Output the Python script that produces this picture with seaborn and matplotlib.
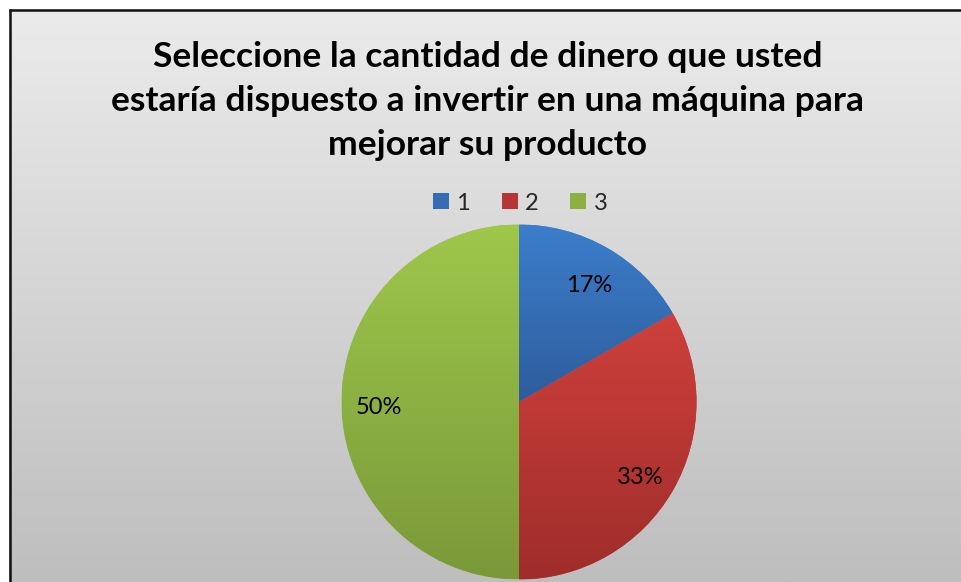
import numpy as np
import matplotlib
matplotlib.use("Agg")
import matplotlib.pyplot as plt
from matplotlib.colors import LinearSegmentedColormap
from matplotlib.patches import Patch
import seaborn as sns

# Survey answers
categories = ["1", "2", "3"]
counts = [1, 2, 3]
title = ("Seleccione la cantidad de dinero que usted\n"
         "estaría dispuesto a invertir en una máquina para\n"
         "mejorar su producto")

# top / bottom shade of each slice
top_colors = ["#3c7ecc", "#ce403b", "#9ec74b"]
bottom_colors = ["#2e5d9c", "#9f2d2b", "#7a9939"]

sns.set_theme(style="white")
plt.rcParams["font.family"] = ["Lato", "DejaVu Sans"]

W, H = 961, 582
fig = plt.figure(figsize=(W / 100, H / 100), dpi=100)
fig.patch.set_facecolor("white")

# chart area with vertical grey gradient and dark frame
bx0, by_top = 9, 9
bg = fig.add_axes([bx0 / W, 0, 1 - bx0 / W, 1 - by_top / H])
grad = np.linspace(0, 1, 256).reshape(-1, 1)
bg_cmap = LinearSegmentedColormap.from_list("bg", ["#ebebeb", "#bebebe"])
bg.imshow(grad, aspect="auto", cmap=bg_cmap, extent=(0, 1, 0, 1), origin="upper")
bg.set_xlim(0, 1)
bg.set_ylim(0, 1)
bg.axis("off")
bg.plot([0.001, 0.001], [0, 1], color="#111111", lw=1.8, solid_capstyle="butt")
bg.plot([0, 1], [0.998, 0.998], color="#111111", lw=1.8, solid_capstyle="butt")

# title
fig.text(488 / W, 1 - 101 / H, title, ha="center", va="center",
         multialignment="center", fontsize=25.5, fontweight="bold",
         color="#000000", linespacing=1.48)

# pie
cx, cy, r = 519, 402, 177.5
ax = fig.add_axes([(cx - r) / W, (H - cy - r) / H, 2 * r / W, 2 * r / H])
wedges, texts, autotexts = ax.pie(
    counts, startangle=90, counterclock=False, radius=1,
    colors=top_colors, autopct=lambda p: f"{p:.0f}%", pctdistance=0.79,
    wedgeprops=dict(linewidth=0, edgecolor="none"),
    textprops=dict(fontsize=17, color="black"))
ax.set_aspect("equal")
ax.axis("off")

for w, tc, bc in zip(wedges, top_colors, bottom_colors):
    verts = w.get_patch_transform().transform(w.get_path().vertices)
    y0, y1 = verts[:, 1].min(), verts[:, 1].max()
    cmap = LinearSegmentedColormap.from_list("g", [tc, bc])
    im = ax.imshow(grad, aspect="auto", cmap=cmap, extent=(-1, 1, y0, y1),
                   origin="upper", zorder=w.get_zorder() + 0.1)
    im.set_clip_path(w)
for t in autotexts:
    t.set_zorder(5)
    x, y = t.get_position()
    t.set_position((x, y - 0.03))
ax.set_xlim(-1, 1)
ax.set_ylim(-1, 1)

# legend
handles = [Patch(facecolor=c, edgecolor="none") for c in
           [sns.blend_palette([t, b], 3)[1] for t, b in zip(top_colors, bottom_colors)]]
fig.legend(handles, categories, loc="center", bbox_to_anchor=(520 / W, 1 - 203 / H),
           ncol=3, frameon=False, fontsize=17, handlelength=0.68, handleheight=0.68,
           handletextpad=0.3, columnspacing=1.36)

fig.savefig("out.png", dpi=100)
